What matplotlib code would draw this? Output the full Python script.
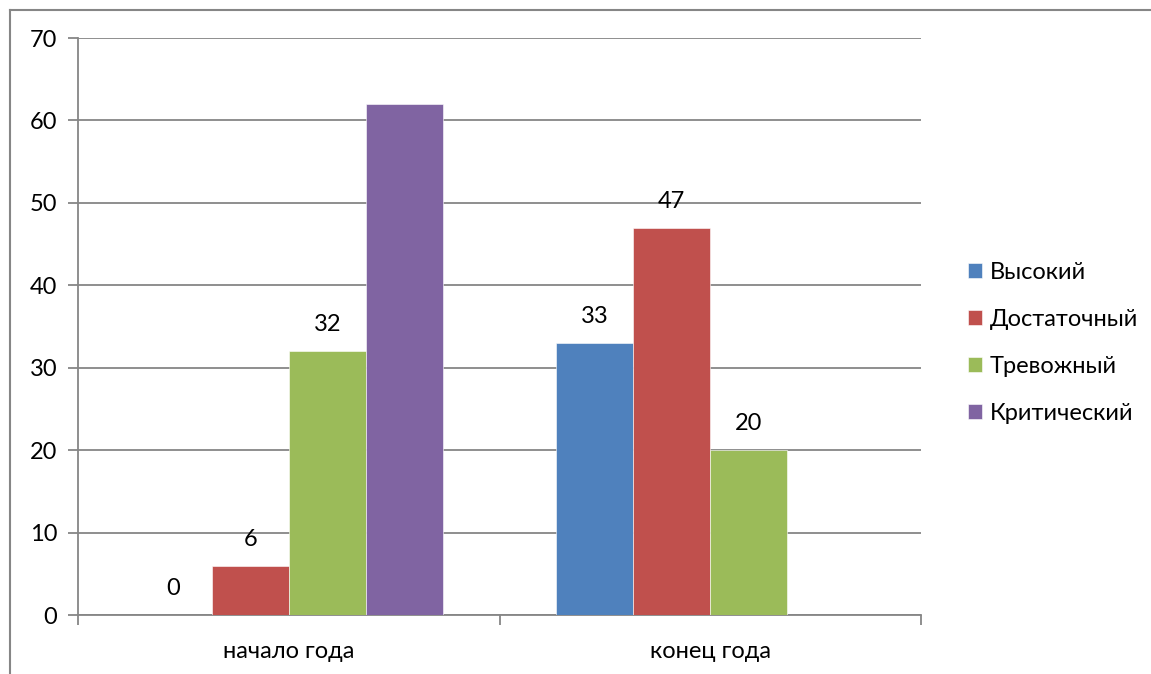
import matplotlib.pyplot as plt
import numpy as np

# data
categories = ["начало года", "конец года"]
series = ["Высокий", "Достаточный", "Тревожный", "Критический"]
vysokiy = [0, 33]
dostatochny = [6, 47]
trevozhny = [32, 20]
kritichesky = [62, np.nan]
colors = ["#4F81BD", "#C0504D", "#9BBB59", "#8064A2"]
show_labels = [True, True, True, False]

values = [vysokiy, dostatochny, trevozhny, kritichesky]

plt.rcParams['font.family'] = ['Lato', 'DejaVu Sans']
fs = 17

W, H = 1151, 674
fig = plt.figure(figsize=(W / 100, H / 100), dpi=100)
ax = fig.add_axes([78 / W, 1 - 615 / H, (921 - 78) / W, (615 - 38) / H])

grey = "#868686"
x = np.arange(len(categories))
width = 0.1827
for i, (name, vals) in enumerate(zip(series, values)):
    pos = x + (i - 1.5) * width
    ax.bar(pos, vals, width, color=colors[i], label=name,
           edgecolor="white", linewidth=0.4, zorder=3)
    if not show_labels[i]:
        continue
    for p, v in zip(pos, vals):
        if np.isnan(v):
            continue
        ax.annotate(f"{v:g}", (p, v), xytext=(0, 19), textcoords="offset points",
                    ha="center", va="center", fontsize=fs, color="black")

ax.set_xlim(-0.5, 1.5)
ax.set_ylim(0, 70)
ax.set_yticks(range(0, 71, 10))
ax.yaxis.grid(True, color=grey, linewidth=1.3, zorder=0)
ax.set_axisbelow(True)

ax.set_xticks(x)
ax.set_xticklabels(categories)
ax.set_xticks([-0.5, 0.5, 1.5], minor=True)
ax.tick_params(axis="x", which="major", length=0, pad=19, labelsize=fs)
ax.tick_params(axis="x", which="minor", length=7, width=1.3, color=grey)
ax.tick_params(axis="y", length=7, width=1.3, color=grey, pad=8, labelsize=fs)

for side in ["top", "right"]:
    ax.spines[side].set_visible(False)
for side in ["left", "bottom"]:
    ax.spines[side].set_color(grey)
    ax.spines[side].set_linewidth(1.3)

leg = ax.legend(loc="center left", bbox_to_anchor=(947 / W, 1 - 343 / H),
                bbox_transform=fig.transFigure, frameon=False, fontsize=fs,
                handlelength=0.6, handleheight=0.6, handletextpad=0.3,
                labelspacing=1.1)

# outer chart border
fig.add_artist(plt.Line2D([10 / W, 10 / W], [0, 1 - 9.5 / H], color=grey,
                          linewidth=1.5, transform=fig.transFigure))
fig.add_artist(plt.Line2D([10 / W, 1], [1 - 9.5 / H, 1 - 9.5 / H], color=grey,
                          linewidth=1.5, transform=fig.transFigure))

fig.savefig("out.png", dpi=100)
